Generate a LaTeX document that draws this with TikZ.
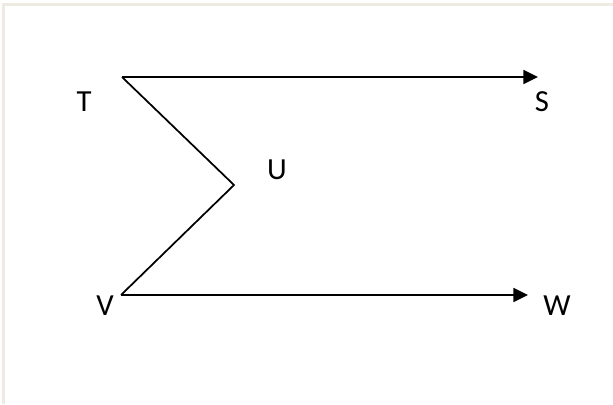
\documentclass[tikz,border=0pt]{standalone}
\usepackage{fontspec}
\setmainfont{Carlito}
\usetikzlibrary{arrows.meta}
\definecolor{framecol}{RGB}{238,236,226}
\tikzset{
  conn/.style={line width=1.3pt, line join=miter},
  arr/.style={conn, -{Triangle[length=11pt,width=10.5pt]}},
  lbl/.style={inner sep=0pt, font=\fontsize{23}{26}\selectfont}
}
\begin{document}
\begin{tikzpicture}[x=0.75pt,y=-0.75pt]
\useasboundingbox (0,0) rectangle (613,404);
\draw[framecol, line width=1.6pt] (3.5,404) -- (3.5,4.5) -- (613,4.5);
\coordinate (t) at (122,77);
\coordinate (u) at (234,185);
\coordinate (v) at (121,295);
\coordinate (sEnd) at (538,77);
\coordinate (wEnd) at (528,295);
\node[lbl] (T) at (84,102) {T};
\node[lbl] (S) at (542,102) {S};
\node[lbl] (U) at (277,170) {U};
\node[lbl] (V) at (105,306) {V};
\node[lbl] (W) at (557,306) {W};
\draw[conn] (t) -- (u) -- (v);
\draw[arr] (t) -- (sEnd);
\draw[arr] (v) -- (wEnd);
\end{tikzpicture}
\end{document}
